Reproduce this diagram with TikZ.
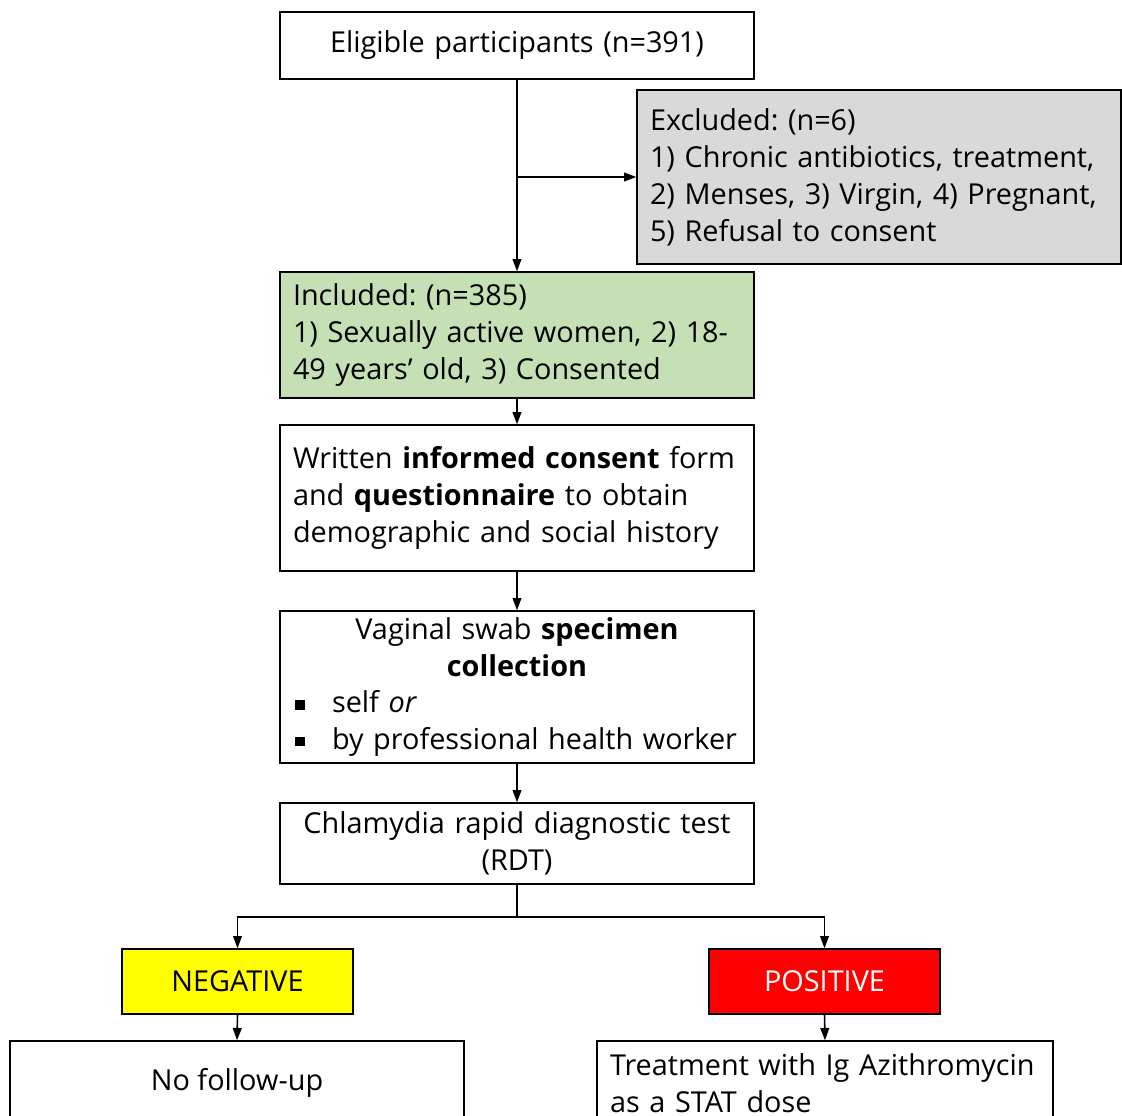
\documentclass[tikz,border=0pt]{standalone}
\usepackage{fontspec}
\setmainfont{Open Sans}
\frenchspacing
\usetikzlibrary{arrows.meta, positioning, calc}
\definecolor{cinzaexcl}{RGB}{217, 217, 217}
\definecolor{verdeincl}{RGB}{197, 224, 180}
\definecolor{amarelo}{RGB}{255, 255, 0}
\definecolor{vermelho}{RGB}{255, 0, 0}

\begin{document}
\begin{tikzpicture}[
    font=\fontsize{16.4}{21}\selectfont,
    box/.style={draw, line width=0.8pt, inner xsep=0.26cm, inner ysep=0pt, fill=white},
    wide/.style={box, text width=8.96cm, minimum width=9.48cm},
    tag/.style={box, minimum width=4.62cm, minimum height=1.3cm, align=center},
    barr/.style={-{Triangle[width=5pt,length=7pt]}, line width=0.9pt},
]
\clip (0,0) rectangle (22.44,-22.30);

% ── Triagem ─────────────────────────────────────────
\node[wide, align=center, minimum height=1.34cm] (elig) at (10.34,-0.91) {Eligible participants (n=391)};
\node[box, fill=cinzaexcl, text width=9.16cm, minimum height=3.48cm, align=left] (excl) at (17.58,-3.54)
  {Excluded: (n=6)\\1) Chronic antibiotics, treatment,\\2) Menses, 3) Virgin, 4) Pregnant,\\5) Refusal to consent};
\node[wide, fill=verdeincl, align=left, minimum height=2.52cm] (incl) at (10.34,-6.70)
  {Included: (n=385)\\1) Sexually active women, 2) 18-\\49 years’ old, 3) Consented};

% ── Procedimentos ───────────────────────────────────
\node[wide, align=left, minimum height=2.92cm] (consent) at (10.34,-9.96)
  {Written \textbf{informed consent} form\\and \textbf{questionnaire} to obtain\\demographic and social history};
\node[wide, minimum height=3.04cm] (swab) at (10.34,-13.74)
  {{\centering Vaginal swab \textbf{specimen}\\\textbf{collection}\par}
   \raggedright
   \hspace{0.04cm}\makebox[0.74cm][l]{\rule[0.12em]{0.33em}{0.33em}}self \textit{or}\\
   \hspace{0.04cm}\makebox[0.74cm][l]{\rule[0.12em]{0.33em}{0.33em}}by professional health worker};
\node[wide, align=center, minimum height=1.62cm] (rdt) at (10.34,-16.87)
  {Chlamydia rapid diagnostic test\\(RDT)};

% ── Resultado ───────────────────────────────────────
\node[tag, fill=amarelo] (neg) at (4.75,-19.63) {NEGATIVE};
\node[tag, fill=vermelho, text=white] (pos) at (16.49,-19.63) {POSITIVE};
\node[box, minimum width=9.08cm, minimum height=1.68cm, align=center] (nofu) at (4.74,-21.66) {No follow-up};
\node[box, text width=8.6cm, minimum width=9.12cm, minimum height=1.68cm, align=left] (treat) at (16.50,-21.66)
  {Treatment with Ig Azithromycin\\as a STAT dose};

% Setas
\draw[barr] (elig.south) -- (incl.north);
\draw[barr] (elig.south |- excl.west) -- (excl.west);
\draw[barr] (incl.south) -- (consent.north);
\draw[barr] (consent.south) -- (swab.north);
\draw[barr] (swab.south) -- (rdt.north);
\coordinate (split) at ($(rdt.south)+(0,-0.64)$);
\draw[line width=0.9pt] (rdt.south) -- (split);
\draw[barr] (split) -| (neg.north);
\draw[barr] (split) -| (pos.north);
\draw[barr] (neg.south) -- (nofu.north);
\draw[barr] (pos.south) -- (treat.north);

\end{tikzpicture}
\end{document}
